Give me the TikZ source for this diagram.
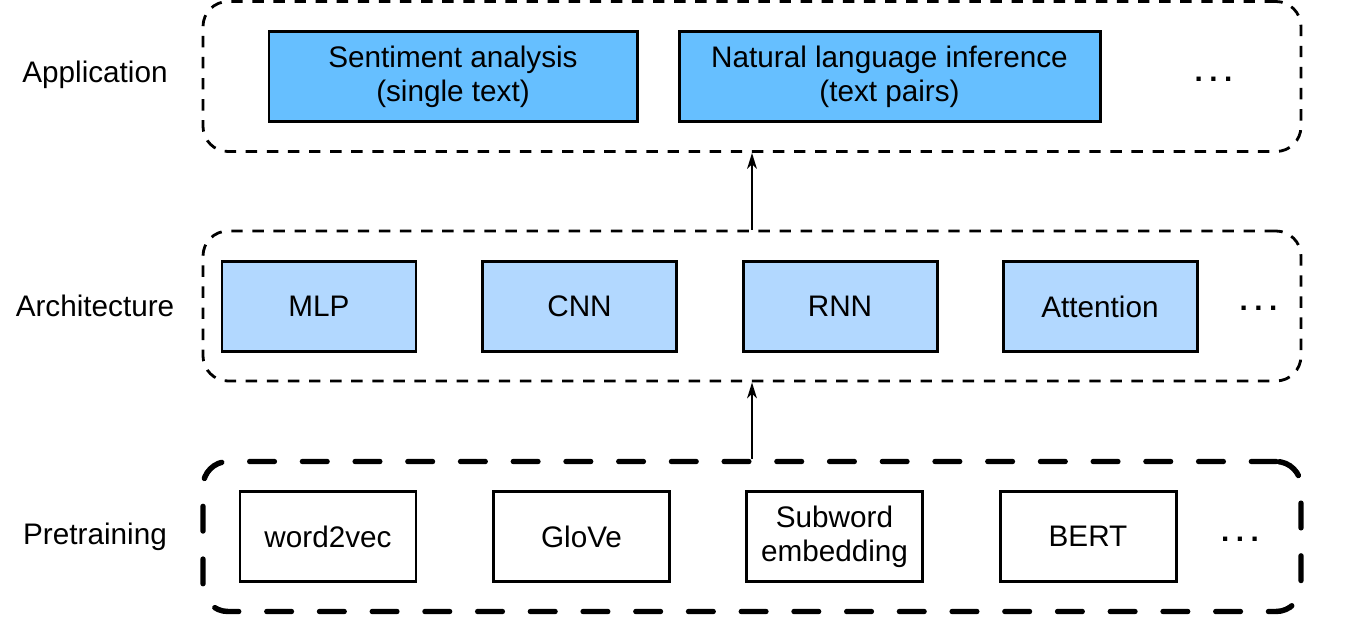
\documentclass[tikz,border=0pt]{standalone}
\usepackage{fontspec}
\setmainfont{Liberation Sans}
\usetikzlibrary{arrows.meta}
\definecolor{appblue}{RGB}{102,191,255}
\definecolor{archblue}{RGB}{178,216,255}
\newcommand{\moredots}{{\bfseries .\hspace{0.22em}.\hspace{0.22em}.}}
\begin{document}
\begin{tikzpicture}[
    every node/.style={font=\fontsize{16.9pt}{19.3pt}\selectfont},
    task/.style={draw,line width=1.7pt,fill=appblue,minimum height=1.8cm,align=center},
    model/.style={draw,line width=1.7pt,fill=archblue,minimum width=3.88cm,minimum height=1.8cm},
    embed/.style={draw,line width=1.7pt,minimum width=3.52cm,minimum height=1.8cm,align=center},
    group/.style={draw,rounded corners=0.5cm,minimum width=21.96cm,minimum height=3cm},
    ]
    \useasboundingbox (0,0) rectangle (27.3,12.46);
    % layers
    \node[group,line width=1.6pt,dash pattern=on 6.5pt off 5.5pt] (app) at (15.04,10.93) {};
    \node[group,line width=1.6pt,dash pattern=on 6.5pt off 5.5pt] (arch) at (15.04,6.34) {};
    \node[group,line width=3.1pt,dash pattern=on 14pt off 16pt,line cap=round] (pre) at (15.04,1.73) {};
    \node (appl) at (1.9,10.96) {Application};
    \node (archl) at (1.9,6.34) {Architecture};
    \node (prel) at (1.9,1.72) {Pretraining};
    % application
    \node[task,minimum width=7.36cm] (sa) at (9.06,10.93) {Sentiment analysis\\(single text)};
    \node[task,minimum width=8.42cm] (nli) at (17.79,10.93) {Natural language inference\\(text pairs)};
    \node (appd) at (24.27,10.88) {\moredots};
    % architecture
    \node[model] (mlp) at (6.38,6.33) {MLP};
    \node[model] (cnn) at (11.59,6.33) {CNN};
    \node[model] (rnn) at (16.8,6.33) {RNN};
    \node[model] (att) at (22.0,6.33) {Attention};
    \node (archd) at (25.17,6.3) {\moredots};
    % pretraining
    \node[embed] (w2v) at (6.56,1.73) {word2vec};
    \node[embed] (glove) at (11.63,1.73) {GloVe};
    \node[embed] (sub) at (16.69,1.73) {Subword\\embedding};
    \node[embed] (bert) at (21.76,1.73) {BERT};
    \node (pred) at (24.8,1.68) {\moredots};
    \draw[-{Stealth[length=9pt,width=5.5pt,inset=2.5pt]},line width=1.2pt] (pre.north) -- (arch.south);
    \draw[-{Stealth[length=9pt,width=5.5pt,inset=2.5pt]},line width=1.2pt] (arch.north) -- (app.south);
\end{tikzpicture}
\end{document}
